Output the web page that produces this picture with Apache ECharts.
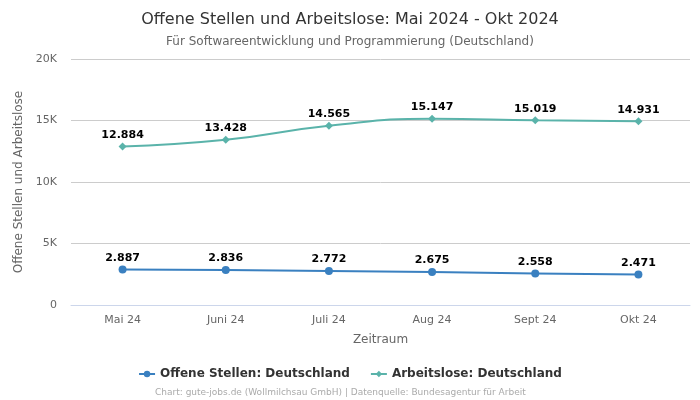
<!DOCTYPE html>
<html><head><meta charset="utf-8">
<script src="https://cdn.jsdelivr.net/npm/echarts@6/dist/echarts.min.js"></script>
<style>html,body{margin:0;padding:0;background:#fff}#c{width:700px;height:400px}</style>
</head><body><div id="c"></div>
<script>
var categories = ['Mai 24','Juni 24','Juli 24','Aug 24','Sept 24','Okt 24'];
var offeneStellen = [2887, 2836, 2772, 2675, 2558, 2471];
var arbeitslose = [12884, 13428, 14565, 15147, 15019, 14931];
var yTicks = [0, 5000, 10000, 15000, 20000];

function fmt(v){ return String(v).replace(/\B(?=(\d{3})+(?!\d))/g, '.'); }
var FONT = 'DejaVu Sans';
var chart = echarts.init(document.getElementById('c'));
chart.setOption({
  animation: false,
  textStyle: { fontFamily: FONT },
  title: [
    { text: 'Offene Stellen und Arbeitslose: Mai 2024 - Okt 2024', left: 'center', top: 7,
      textStyle: { fontFamily: FONT, fontSize: 16, fontWeight: 'normal', color: '#333' } },
    { text: 'Für Softwareentwicklung und Programmierung (Deutschland)', left: 'center', top: 31,
      textStyle: { fontFamily: FONT, fontSize: 12, fontWeight: 'normal', color: '#666' } },
    { text: 'Chart: gute-jobs.de (Wollmilchsau GmbH) | Datenquelle: Bundesagentur für Arbeit', left: 150, top: 383,
      textStyle: { fontFamily: FONT, fontSize: 9, fontWeight: 'normal', color: '#aaa' } }
  ],
  legend: {
    bottom: 15, left: 'center', itemGap: 20, itemWidth: 16, itemHeight: 8,
    textStyle: { fontFamily: FONT, fontSize: 12, fontWeight: 'bold', color: '#333' },
    data: ['Offene Stellen: Deutschland', 'Arbeitslose: Deutschland']
  },
  grid: { left: 71, right: 10, top: 59, bottom: 95 },
  xAxis: {
    type: 'category', data: categories, boundaryGap: true,
    name: 'Zeitraum', nameLocation: 'middle', nameGap: 29,
    nameTextStyle: { fontFamily: FONT, fontSize: 12, color: '#666' },
    axisLine: { lineStyle: { color: '#ccd6eb' } },
    axisTick: { show: false },
    axisLabel: { fontFamily: FONT, fontSize: 11, color: '#666', margin: 10 }
  },
  yAxis: {
    type: 'value', min: 0, max: 20000, interval: 5000,
    name: 'Offene Stellen und Arbeitslose', nameLocation: 'middle', nameGap: 42,
    nameTextStyle: { fontFamily: FONT, fontSize: 12, color: '#666' },
    axisLabel: { fontFamily: FONT, fontSize: 11, color: '#666', margin: 14,
      formatter: function(v){ return yTicks.indexOf(v) >= 0 ? (v === 0 ? '0' : (v/1000) + 'K') : ''; } },
    splitLine: { lineStyle: { color: '#cccccc' } },
    axisLine: { show: false }, axisTick: { show: false }
  },
  series: [
    { name: 'Offene Stellen: Deutschland', type: 'line', data: offeneStellen, smooth: true,
      symbol: 'circle', symbolSize: 8, color: '#3a80c0', lineStyle: { width: 2 },
      label: { show: true, position: 'top', distance: 2, formatter: function(p){ return fmt(p.value); },
        fontFamily: FONT, fontSize: 11, fontWeight: 'bold', color: '#000' } },
    { name: 'Arbeitslose: Deutschland', type: 'line', data: arbeitslose, smooth: true,
      symbol: 'diamond', symbolSize: 8, color: '#5ab3aa', lineStyle: { width: 2 },
      label: { show: true, position: 'top', distance: 2, formatter: function(p){ return fmt(p.value); },
        fontFamily: FONT, fontSize: 11, fontWeight: 'bold', color: '#000' } }
  ]
});
</script></body></html>
